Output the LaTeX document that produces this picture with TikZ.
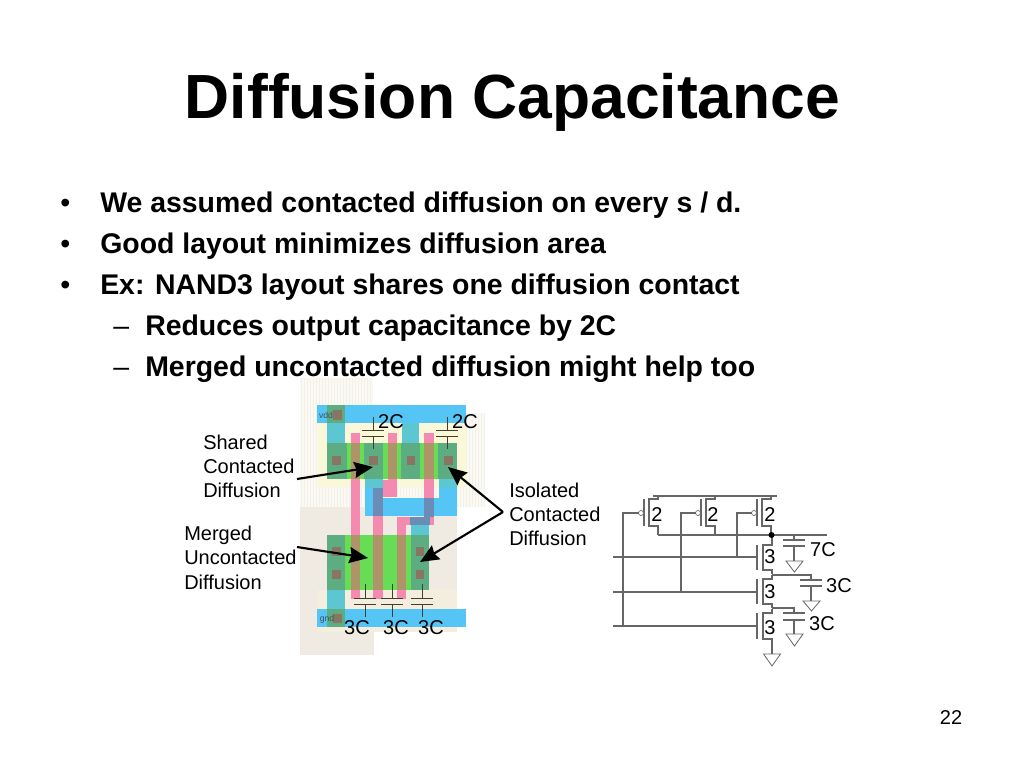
\documentclass[tikz,border=0pt]{standalone}
\usepackage{fontspec}
\setmainfont[Ligatures=CommonOff]{Liberation Sans}
\usetikzlibrary{arrows.meta}
\definecolor{wellA}{HTML}{FAF9F3}
\definecolor{wellS}{HTML}{F3F1E7}
\definecolor{wellB}{HTML}{EFEBE2}
\definecolor{sel}{HTML}{FAF8D8}
\definecolor{selB}{HTML}{F4EEDF}
\definecolor{metal}{HTML}{55C5F5}
\definecolor{diff}{HTML}{66DD55}
\definecolor{cdiff}{HTML}{5CAE82}
\definecolor{stub}{HTML}{5CC6D2}
\definecolor{poly}{HTML}{F48AB0}
\definecolor{gate}{HTML}{AE9468}
\definecolor{via}{HTML}{6C8CB8}
\definecolor{cont}{HTML}{8A7562}
\definecolor{wire}{HTML}{666666}
\tikzset{
  lay/.style={fill=#1,draw=none},
  title/.style={anchor=base,font=\fontsize{46.8}{50}\selectfont\bfseries},
  body/.style={anchor=base west,font=\fontsize{21.33}{24}\selectfont\bfseries,inner sep=0},
  bulletmark/.style={anchor=base west,font=\fontsize{21.33}{24}\selectfont,inner sep=0},
  small/.style={anchor=base west,font=\fontsize{15}{18}\selectfont,inner sep=0},
  val/.style={anchor=base,font=\fontsize{15}{18}\selectfont,inner sep=0},
  tiny/.style={anchor=center,font=\fontsize{6.5}{8}\selectfont,text=black!75!cyan,inner sep=0},
  wr/.style={draw=wire,line width=0.8pt},
  capw/.style={draw=black!70!olive,line width=0.6pt},
  fat/.style={draw=black,line width=1.6pt,-{Stealth[length=14pt,width=12pt,inset=1.5pt]}},
  gnd/.style={draw=wire,line width=0.6pt,fill=white}
}
\newcommand{\rct}[5]{\fill[lay=#1] (#2,#3) rectangle (#4,#5);}
\begin{document}
\begin{tikzpicture}[x=0.75pt,y=-0.75pt]
\useasboundingbox (0,0) rectangle (1024,768);
\fill[white] (0,0) rectangle (1024,768);

\node[title] (ttl) at (512.5,118) {Diffusion Capacitance};
\node[body] (b1) at (100,212.5) {We assumed contacted diffusion on every s / d.};
\node[body] (b2) at (100,253.5) {Good layout minimizes diffusion area};
\node[body] (b3) at (100,294.5) {Ex: NAND3 layout shares one diffusion contact};
\node[body] (b4) at (145,335.5) {Reduces output capacitance by 2C};
\node[body] (b5) at (145,376.5) {Merged uncontacted diffusion might help too};
\node[bulletmark] (m1) at (60,212.5) {•};
\node[bulletmark] (m2) at (60,253.5) {•};
\node[bulletmark] (m3) at (60,294.5) {•};
\node[bulletmark] (m4) at (113,335.5) {–};
\node[bulletmark] (m5) at (113,376.5) {–};

% wells
\rct{wellA}{300}{378}{373}{507}
\rct{wellA}{373}{413}{485}{507}
\foreach \sx in {301,304,...,372}{\draw[wellS,line width=0.6pt] (\sx,378) -- (\sx,507);}
\foreach \sx in {373,376,...,484}{\draw[wellS,line width=0.6pt] (\sx,413) -- (\sx,507);}
\rct{wellB}{300}{507}{457}{617}
\rct{wellB}{300}{617}{374}{655}
% select
\rct{sel}{318}{423}{466}{487}
\rct{selB}{318}{590}{457}{632}
% metal
\rct{metal}{317}{405}{466}{423}
\rct{stub}{327}{423}{345}{443}
\rct{stub}{402}{423}{419}{443}
\rct{metal}{365}{479}{383}{516}
\rct{metal}{383}{498}{457}{516}
\rct{metal}{439}{479}{457}{516}
\rct{stub}{365}{479}{383}{488}
\rct{stub}{439}{479}{457}{488}
\rct{stub}{411}{525}{429}{535}
\rct{metal}{317}{609}{466}{627}
\rct{stub}{327}{590}{345}{609}
\rct{cdiff}{327}{609}{345}{627}
\rct{cdiff}{327}{405}{345}{423}
% diffusion
\rct{diff}{327}{443}{457}{479}
\rct{diff}{327}{535}{429}{590}
\rct{cdiff}{327}{443}{347}{479}
\rct{cdiff}{364}{443}{383}{479}
\rct{cdiff}{401}{443}{420}{479}
\rct{cdiff}{438}{443}{457}{479}
\rct{cdiff}{327}{535}{345}{590}
\rct{cdiff}{411}{535}{429}{590}
% poly
\rct{poly}{351}{433}{360}{599}
\rct{poly}{388}{433}{397}{497}
\rct{poly}{383}{480}{397}{497}
\rct{poly}{424}{433}{434}{525}
\rct{poly}{373}{515}{383}{599}
\rct{poly}{397}{517}{406}{599}
\rct{poly}{397}{517}{424}{525}
% gates
\rct{gate}{351}{443}{360}{479}
\rct{gate}{388}{443}{397}{479}
\rct{gate}{424}{443}{434}{479}
\rct{gate}{351}{535}{360}{590}
\rct{gate}{373}{535}{383}{590}
\rct{gate}{397}{535}{406}{590}
% poly contact overlap
\rct{via}{373}{488}{383}{516}
\rct{via}{424}{498}{434}{517}
\rct{via}{410}{517}{430}{525}
% contacts
\rct{cont}{333}{410}{342}{420}
\rct{cont}{332}{456}{341}{465}
\rct{cont}{369}{456}{378}{465}
\rct{cont}{407}{456}{415}{465}
\rct{cont}{444}{456}{453}{465}
\rct{cont}{332}{547}{341}{556}
\rct{cont}{332}{570}{341}{579}
\rct{cont}{416}{547}{424}{556}
\rct{cont}{416}{570}{424}{579}
\rct{cont}{333}{614}{342}{623}
\node[tiny] (vdd) at (326,415) {vdd};
\node[tiny] (gnd) at (327,619) {gnd};

% layout capacitors
\foreach \cx in {373,447}{
  \draw[capw] (\cx,417) -- (\cx,430) (\cx-11,430) -- (\cx+11,430) (\cx-11,436) -- (\cx+11,436) (\cx,436) -- (\cx,449);
}
\foreach \cx in {365,392,422}{
  \draw[capw] (\cx,584) -- (\cx,598) (\cx-11,598) -- (\cx+11,598) (\cx-11,604) -- (\cx+11,604) (\cx,604) -- (\cx,617);
}
\node[val] (c2a) at (391,428) {2C};
\node[val] (c2b) at (465,428) {2C};
\node[val] (c3a) at (357,634) {3C};
\node[val] (c3b) at (396,634) {3C};
\node[val] (c3c) at (431,634) {3C};

% callouts
\node[small] (s1) at (203,449) {Shared};
\node[small] (s2) at (203,473) {Contacted};
\node[small] (s3) at (203,497) {Diffusion};
\node[small] (u1) at (184,540) {Merged};
\node[small] (u2) at (184,564) {Uncontacted};
\node[small] (u3) at (184,589) {Diffusion};
\node[small] (i1) at (509,497) {Isolated};
\node[small] (i2) at (509,521) {Contacted};
\node[small] (i3) at (509,545) {Diffusion};
\coordinate (ss) at (297,479);
\coordinate (st) at (373,467);
\coordinate (us) at (297,547);
\coordinate (ut) at (368,558);
\coordinate (is) at (503,512);
\coordinate (ia) at (448,467);
\coordinate (ib) at (420,562);
\draw[fat] (ss) -- (st);
\draw[fat] (us) -- (ut);
\draw[fat] (is) -- (ia);
\draw[fat] (is) -- (ib);

% schematic
\coordinate (vddL) at (653,496);
\coordinate (vddR) at (777,496);
\draw[wr] (vddL) -- (vddR);
\coordinate (outL) at (658,535);
\coordinate (outR) at (827,535);
\draw[wr] (outL) -- (outR);
\foreach \px/\wx/\ly in {644/623/626, 701/681/592, 757/737/557}{
  \draw[wr] (\px+14,496) -- (\px+14,499) -- (\px+5,499) -- (\px+5,526) -- (\px+14,526) -- (\px+14,535);
  \draw[wr] (\px,499) -- (\px,526);
  \draw[draw=wire,line width=0.5pt,fill=white] (\px-3,513) circle (2.5);
  \draw[wr] (\px-5.5,513) -- (\wx,513) -- (\wx,\ly);
}
\foreach \ga/\gb/\gy in {545/570/557, 579/604/592, 613/639/626}{
  \draw[wr] (757,\ga) -- (757,\gb);
  \draw[wr] (613,\gy) -- (757,\gy);
  \draw[wr] (772,\ga-4) -- (772,\ga) -- (763,\ga) -- (763,\gb) -- (772,\gb) -- (772,\gb+4);
}
\draw[wr] (772,535) -- (772,541);
\draw[wr] (772,639) -- (772,654);
\draw[gnd] (763.5,654) -- (780.5,654) -- (772,666) -- cycle;
\fill[black] (771.5,535) circle (3);
% schematic caps
\draw[wr] (794,535) -- (794,540) (783,540) -- (805,540) (783,546) -- (805,546) (794,546) -- (794,561);
\draw[gnd] (786,561) -- (803,561) -- (794.5,572) -- cycle;
\draw[wr] (772,575) -- (811,575) -- (811,580) (800,580) -- (822,580) (800,586) -- (822,586) (811,586) -- (811,601);
\draw[gnd] (803,601) -- (820,601) -- (811.5,611) -- cycle;
\draw[wr] (772,608) -- (794,608) -- (794,613) (783,613) -- (805,613) (783,620) -- (805,620) (794,620) -- (794,634);
\draw[gnd] (786,634) -- (803,634) -- (794.5,646) -- cycle;
\node[val] (p1) at (657,521) {2};
\node[val] (p2) at (713,521) {2};
\node[val] (p3) at (770,521) {2};
\node[val] (n1) at (770,563.5) {3};
\node[val] (n2) at (770,598.5) {3};
\node[val] (n3) at (770,634) {3};
\node[val] (k1) at (823,556) {7C};
\node[val] (k2) at (839,592) {3C};
\node[val] (k3) at (822,630) {3C};

\node[val] (pg) at (951,724) {22};
\end{tikzpicture}
\end{document}
